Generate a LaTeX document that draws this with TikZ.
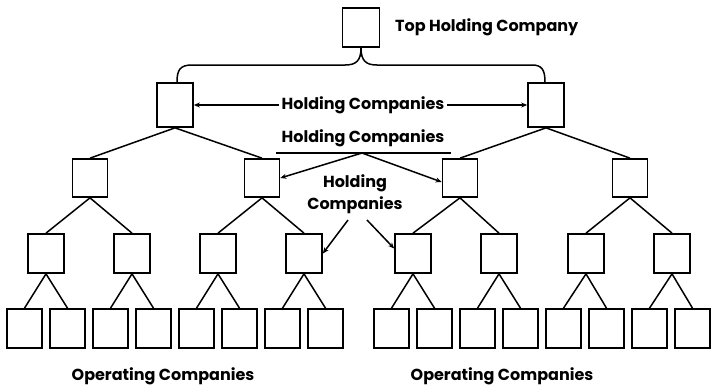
\documentclass[tikz,border=0pt]{standalone}
\usepackage{fontspec}
\setmainfont{Poppins}
\usetikzlibrary{arrows.meta,calc}
\begin{document}
\begin{tikzpicture}[x=1pt,y=-1pt,
  box/.style={draw, line width=1.7pt, minimum width=35pt, minimum height=39pt, inner sep=0pt},
  link/.style={line width=1.5pt},
  arr/.style={line width=1.5pt, -{Stealth[length=6pt,width=5pt]}},
  lbl/.style={font=\fontsize{16}{22}\selectfont\bfseries, inner sep=3pt}]
\useasboundingbox (0,0) rectangle (712,389);
% boxes
\node[box, minimum width=37pt] (top) at (361,27.5) {};
\node[box, minimum width=36pt, minimum height=44pt] (a1) at (175,105) {};
\node[box, minimum width=36pt, minimum height=44pt] (a2) at (546,105) {};
\foreach \n/\x in {1/90,2/262,3/460,4/630}
  \node[box, minimum height=38pt] (b\n) at (\x,178) {};
\foreach \n/\x in {1/46,2/132,3/218,4/304,5/413,6/499,7/586,8/672}
  \node[box, minimum width=36pt] (c\n) at (\x,253.5) {};
\foreach \n/\x in {1/24.5,2/67.5,3/110.5,4/153.5,5/196.5,6/239.5,7/282.5,8/325.5,
                   9/391.5,10/434.5,11/477.5,12/520.5,13/563.5,14/606.5,15/649.5,16/692.5}
  \node[box] (d\n) at (\x,328.5) {};
% bracket from top
\draw[link] (top.south) .. controls ($(top.south)+(0,13)$) and (356,65) .. (345,65)
  -- (192,65) .. controls (180,65) and (177,70) .. (a1.north -| 177,0);
\draw[link] (top.south) .. controls ($(top.south)+(0,13)$) and (366,65) .. (377,65)
  -- (532,65) .. controls (542,65) and (545,70) .. (a2.north -| 545,0);
% tree links
\foreach \p/\l/\r in {a1/b1/b2, a2/b3/b4, b1/c1/c2, b2/c3/c4, b3/c5/c6, b4/c7/c8,
   c1/d1/d2, c2/d3/d4, c3/d5/d6, c4/d7/d8, c5/d9/d10, c6/d11/d12, c7/d13/d14, c8/d15/d16}
  \draw[link] (\l.north) -- (\p.south) -- (\r.north);
% labels
\node[lbl, anchor=west] (toptxt) at (392,27) {Top Holding Company};
\node[lbl] (hc1) at (363,105) {Holding Companies};
\draw[arr] (hc1.west) -- (a1.east);
\draw[arr] (hc1.east) -- (a2.west);
\node[lbl] (hc2) at (363,138) {Holding Companies};
\coordinate (ulL) at (276,153);
\coordinate (ulR) at (451,153);
\coordinate (ulM) at (362,153);
\draw[link] (ulL) -- (ulR);
\draw[arr] (ulM) -- (b2.east);
\draw[arr] (ulM) -- ($(b3.west)+(0,4)$);
\node[lbl, align=center] (hc3) at (355,194) {Holding\\Companies};
\coordinate (s1) at (348,220);
\coordinate (s2) at (367,220);
\draw[arr] (s1) -- (c4.east);
\draw[arr] (s2) -- ($(c5.west)+(0,-5)$);
\node[lbl] (op1) at (163,376) {Operating Companies};
\node[lbl] (op2) at (502,376) {Operating Companies};
\end{tikzpicture}
\end{document}
